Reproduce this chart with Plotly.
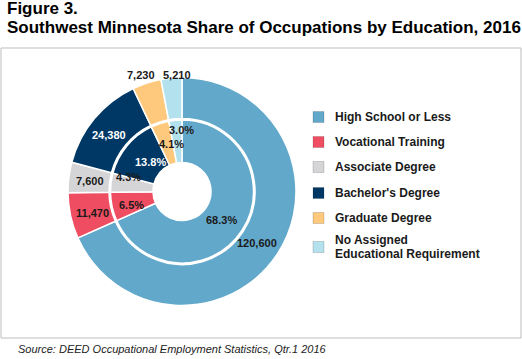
import math
import plotly.graph_objects as go

# ---- data ----
categories = ["High School or Less", "Vocational Training", "Associate Degree",
              "Bachelor's Degree", "Graduate Degree",
              "No Assigned<br>Educational Requirement"]
employment = [120600, 11470, 7600, 24380, 7230, 5210]
share_pct = [68.3, 6.5, 4.3, 13.8, 4.1, 3.0]
colors = ["#62a8cb", "#ef4d61", "#d5d5d7", "#003865", "#fec97c", "#b3e1ed"]

title_line1 = "Figure 3."
title_line2 = "Southwest Minnesota Share of Occupations by Education, 2016"
source_text = "Source: DEED Occupational Employment Statistics, Qtr.1 2016"

# ---- layout constants (pixels) ----
W, H = 522, 359
CX, CY = 182, 191.5
R_OUT, R_OUT_HOLE = 114, 73
R_IN, R_IN_HOLE = 71.5, 29
FONT = "Liberation Sans, Arial, Helvetica, sans-serif"
DARK = "#1a1a1a"


def px(x):
    return x / W


def py(y):
    return 1 - y / H


def dom(r):
    return dict(x=[px(CX - r), px(CX + r)], y=[py(CY + r), py(CY - r)])


fig = go.Figure()
fig.add_trace(go.Pie(
    labels=categories, values=employment, sort=False, direction="clockwise",
    rotation=0, hole=R_OUT_HOLE / R_OUT, domain=dom(R_OUT),
    marker=dict(colors=colors, line=dict(color="white", width=1.5)),
    textinfo="none", hoverinfo="label+value", showlegend=False,
))
fig.add_trace(go.Pie(
    labels=categories, values=employment, sort=False, direction="clockwise",
    rotation=0, hole=R_IN_HOLE / R_IN, domain=dom(R_IN),
    marker=dict(colors=colors, line=dict(color="white", width=1.5)),
    textinfo="none", hoverinfo="label+percent", showlegend=False,
))

# slice label positions computed from the data angles
total = sum(employment)
mids = []
acc = 0
for v in employment:
    mids.append((acc + v / 2) / total * 360)
    acc += v

outer_r = [91, 92, 92.5, 92, 123.4, 116.6]
outer_da = [1.3, -1.3, -0.4, -2.1, -1.3, 2.8]
inner_r = [49, 52, 55.7, 43.4, 48.5, 61.5]
inner_da = [2.5, -2.7, 8.3, 3.6, 6, 5.3]
outer_col = [DARK, DARK, DARK, "white", DARK, DARK]
inner_col = [DARK, DARK, DARK, "white", DARK, DARK]

anns = []


def polar(a_deg, r):
    a = math.radians(a_deg)
    return CX + r * math.sin(a), CY - r * math.cos(a)


for i, v in enumerate(employment):
    x, y = polar(mids[i] + outer_da[i], outer_r[i])
    anns.append(dict(x=px(x), y=py(y), xref="paper", yref="paper",
                     text=f"{v:,}", showarrow=False, xanchor="center", yanchor="middle",
                     font=dict(family=FONT, size=11, color=outer_col[i], weight=700)))
    x, y = polar(mids[i] + inner_da[i], inner_r[i])
    anns.append(dict(x=px(x), y=py(y), xref="paper", yref="paper",
                     text=f"{share_pct[i]:.1f}%", showarrow=False, xanchor="center", yanchor="middle",
                     font=dict(family=FONT, size=11, color=inner_col[i], weight=700)))

# titles & source
anns.append(dict(x=px(5), y=py(8.5), xref="paper", yref="paper", text=title_line1,
                 showarrow=False, xanchor="left", yanchor="middle",
                 font=dict(family=FONT, size=17, color="black", weight=700)))
anns.append(dict(x=px(5), y=py(27.3), xref="paper", yref="paper", text=title_line2,
                 showarrow=False, xanchor="left", yanchor="middle",
                 font=dict(family=FONT, size=17, color="black", weight=700)))
anns.append(dict(x=px(16), y=py(349), xref="paper", yref="paper", text=f"<i>{source_text}</i>",
                 showarrow=False, xanchor="left", yanchor="middle",
                 font=dict(family=FONT, size=11, color="#222222")))

# legend (manual, for exact spacing)
shapes = [dict(type="rect", xref="paper", yref="paper", x0=px(1), x1=px(521),
               y0=py(338), y1=py(48), line=dict(color="#bdbdbd", width=1))]
row_y = [117, 142, 167, 193, 218, 247]
for i, lab in enumerate(categories):
    yc = row_y[i]
    shapes.append(dict(type="rect", xref="paper", yref="paper",
                       x0=px(313), x1=px(324), y0=py(yc + 5.5), y1=py(yc - 5.5),
                       fillcolor=colors[i], line=dict(color="rgba(0,0,0,0.25)", width=0.6)))
    lines = lab.split("<br>")
    n = len(lines)
    for j, t in enumerate(lines):
        ly = yc + (j - (n - 1) / 2) * 13.5
        anns.append(dict(x=px(333), y=py(ly), xref="paper", yref="paper", text=t,
                         showarrow=False, xanchor="left", yanchor="middle",
                         font=dict(family=FONT, size=12, color=DARK, weight=700)))

fig.update_layout(
    width=W, height=H, margin=dict(l=0, r=0, t=0, b=0, pad=0),
    paper_bgcolor="white", plot_bgcolor="white",
    annotations=anns, shapes=shapes, showlegend=False,
)
fig.write_html(
    "out.html",
    config={"displayModeBar": False},
    post_script="document.body.style.margin='0';document.body.style.overflow='hidden';",
)
